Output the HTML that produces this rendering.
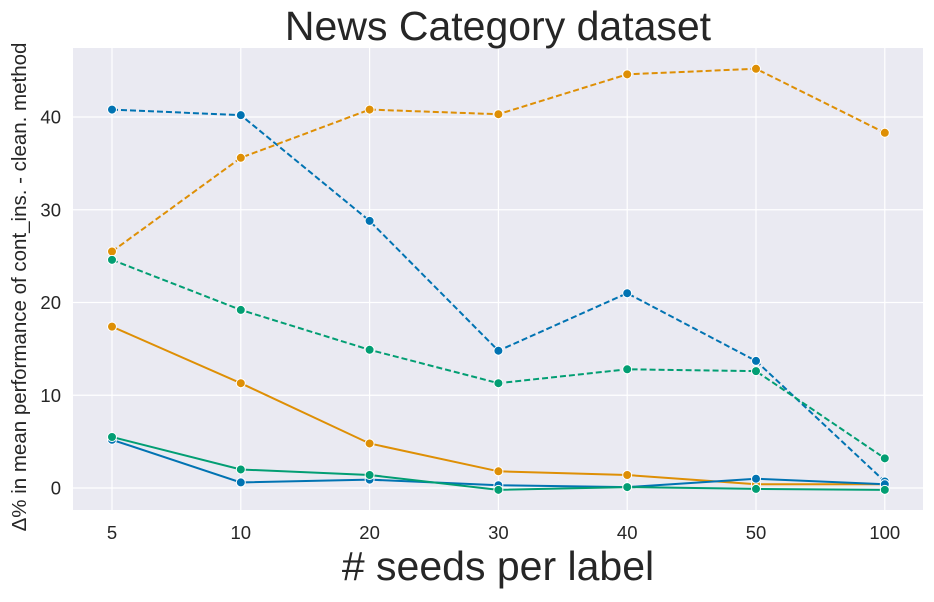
<!DOCTYPE html>
<html><head><meta charset="utf-8"><style>
body{margin:0;background:#fff;font-family:"Liberation Sans",sans-serif}
</style></head><body>
<svg id="chart" width="934" height="597" xmlns="http://www.w3.org/2000/svg" font-family="Liberation Sans, sans-serif"></svg>
<script>
const categories = ["5","10","20","30","40","50","100"];
const yTicks = [0,10,20,30,40];
const blueDashed = [40.8,40.2,28.8,14.8,21.0,13.7,0.7];
const orangeDashed = [25.5,35.6,40.8,40.3,44.6,45.2,38.3];
const greenDashed = [24.6,19.2,14.9,11.3,12.8,12.6,3.2];
const orangeSolid = [17.4,11.3,4.8,1.8,1.4,0.4,0.4];
const blueSolid = [5.2,0.6,0.9,0.3,0.1,1.0,0.4];
const greenSolid = [5.5,2.0,1.4,-0.2,0.1,-0.1,-0.2];

const svg = document.getElementById('chart');
const NS = 'http://www.w3.org/2000/svg';
const L=73,R=923,T=48,B=510;
const x0=112, dx=128.8;
function xs(i){return x0+i*dx;}
function ys(v){return 488 - v*9.275;}
function mk(tag,attrs,parent){const e=document.createElementNS(NS,tag);for(const k in attrs)e.setAttribute(k,attrs[k]);(parent||svg).appendChild(e);return e;}

const bg=mk('rect',{x:L,y:T,width:R-L,height:B-T,fill:'#eaeaf2'});



yTicks.forEach(v=>{
  const g=mk('line',{x1:L,x2:R,y1:ys(v),y2:ys(v),stroke:'#fff','stroke-width':1.2});
  
  
  const t=mk('text',{x:L-12,y:ys(v)+6.5,'text-anchor':'end','font-size':18.5,fill:'#262626'});
  t.textContent=v;
  
  
});
categories.forEach((c,i)=>{
  const g=mk('line',{x1:xs(i),x2:xs(i),y1:T,y2:B,stroke:'#fff','stroke-width':1.2});
  
  
  const t=mk('text',{x:xs(i),y:B+29,'text-anchor':'middle','font-size':18.5,fill:'#262626'});
  t.textContent=c;
  
  
});

const series=[
  {d:blueDashed,c:'#0173b2',dash:'6,3',n:'blue-dashed'},
  {d:orangeDashed,c:'#de8f05',dash:'6,3',n:'orange-dashed'},
  {d:greenDashed,c:'#029e73',dash:'6,3',n:'green-dashed'},
  {d:orangeSolid,c:'#de8f05',dash:'',n:'orange-solid'},
  {d:blueSolid,c:'#0173b2',dash:'',n:'blue-solid'},
  {d:greenSolid,c:'#029e73',dash:'',n:'green-solid'}
];
series.forEach(s=>{
  const g=mk('g',{});
  
  
  const pts=s.d.map((v,i)=>xs(i)+','+ys(v)).join(' ');
  const pl=mk('polyline',{points:pts,fill:'none',stroke:s.c,'stroke-width':2,'stroke-dasharray':s.dash},g);
  
  
  s.d.forEach((v,i)=>{
    const c=mk('circle',{cx:xs(i),cy:ys(v),r:4.5,fill:s.c,stroke:'#fff','stroke-width':1},g);
    
    
  });
});

const title=mk('text',{x:(L+R)/2,y:40,'text-anchor':'middle','font-size':41,fill:'#262626'});
title.textContent='News Category dataset';


const xt=mk('text',{x:(L+R)/2,y:580,'text-anchor':'middle','font-size':41,fill:'#262626'});
xt.textContent='# seeds per label';


const yt=mk('text',{x:0,y:0,'text-anchor':'middle','font-size':20.5,fill:'#262626',transform:'translate(26,'+((T+B)/2+8)+') rotate(-90)'});
yt.textContent='Δ% in mean performance of cont_ins. - clean. method';


</script>
</body></html>
